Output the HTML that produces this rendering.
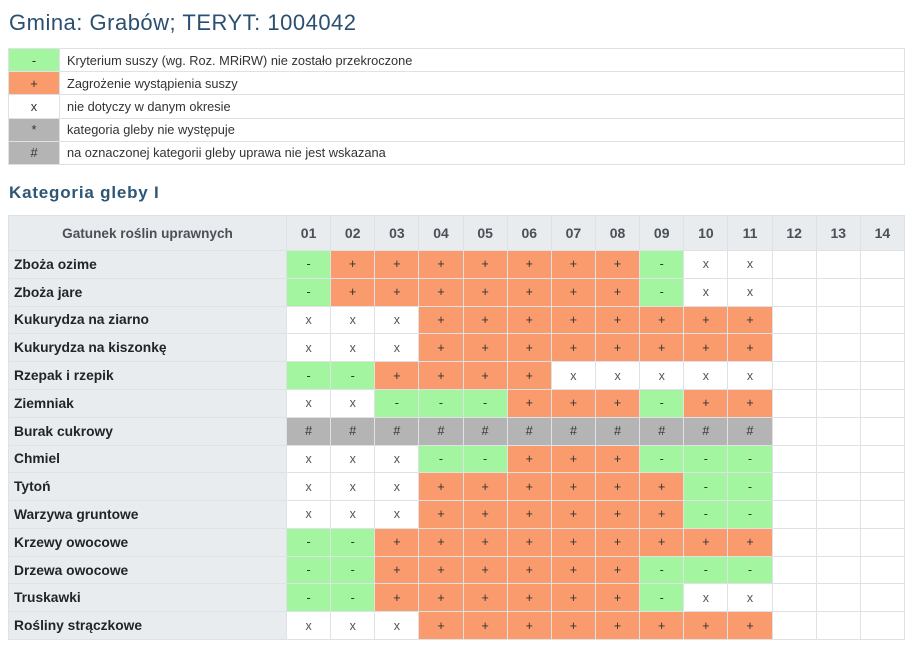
<!DOCTYPE html>
<html><head><meta charset="utf-8">
<style>
*{margin:0;padding:0;box-sizing:border-box}
body{width:913px;height:645px;background:#fff;position:relative;overflow:hidden;font-family:"Liberation Sans","DejaVu Sans",sans-serif;color:#212529}
.t1{position:absolute;left:9px;top:10px;font-size:22px;line-height:26px;letter-spacing:0.5px;color:#2b4f70;white-space:nowrap}
.t2{position:absolute;left:9px;top:183px;font-size:17px;line-height:20px;font-weight:bold;letter-spacing:0.8px;color:#2e5676;white-space:nowrap}
.leg{position:absolute;left:8px;top:48px;width:897px;height:117px;display:grid;grid-template-columns:50px 1fr;grid-template-rows:repeat(5,1fr);gap:1px;background:#dee2e6;border:1px solid #dee2e6}
.leg div{display:flex;align-items:center;font-size:12.8px;color:#333;background:#fff}
.leg .c{justify-content:center}
.leg .d{padding-left:7px}
.tb{position:absolute;left:8px;top:215px;width:897px;height:425px;display:grid;grid-template-columns:277px repeat(14,1fr);grid-template-rows:34px repeat(14,1fr);gap:1px;background:#dee2e6;border:1px solid #dee2e6}
.tb div{display:flex;align-items:center;justify-content:center;background:#fff;font-size:12.5px;color:#333}
.tb .h{background:#e9ecef;font-weight:bold;font-size:14px;color:#495057}
.tb .h0{font-size:13.6px}
.tb .l{background:#e9ecef;justify-content:flex-start;padding-left:5px;font-weight:bold;font-size:13.8px;color:#212529}
.g{background:#a4f5a0 !important}
.o{background:#f99b6c !important}
.s{background:#b4b4b4 !important}
.tb .w{color:#555}
</style></head><body>
<div class="t1">Gmina: Grabów; TERYT: 1004042</div>
<div class="leg">
<div class="c g">-</div><div class="d">Kryterium suszy (wg. Roz. MRiRW) nie zostało przekroczone</div>
<div class="c o">+</div><div class="d">Zagrożenie wystąpienia suszy</div>
<div class="c">x</div><div class="d">nie dotyczy w danym okresie</div>
<div class="c s">*</div><div class="d">kategoria gleby nie występuje</div>
<div class="c s">#</div><div class="d">na oznaczonej kategorii gleby uprawa nie jest wskazana</div>
</div>
<div class="t2">Kategoria gleby I</div>
<div class="tb">
<div class="h h0">Gatunek roślin uprawnych</div><div class="h">01</div><div class="h">02</div><div class="h">03</div><div class="h">04</div><div class="h">05</div><div class="h">06</div><div class="h">07</div><div class="h">08</div><div class="h">09</div><div class="h">10</div><div class="h">11</div><div class="h">12</div><div class="h">13</div><div class="h">14</div>

<div class="l">Zboża ozime</div><div class="g">-</div><div class="o">+</div><div class="o">+</div><div class="o">+</div><div class="o">+</div><div class="o">+</div><div class="o">+</div><div class="o">+</div><div class="g">-</div><div class="w">x</div><div class="w">x</div><div></div><div></div><div></div>

<div class="l">Zboża jare</div><div class="g">-</div><div class="o">+</div><div class="o">+</div><div class="o">+</div><div class="o">+</div><div class="o">+</div><div class="o">+</div><div class="o">+</div><div class="g">-</div><div class="w">x</div><div class="w">x</div><div></div><div></div><div></div>

<div class="l">Kukurydza na ziarno</div><div class="w">x</div><div class="w">x</div><div class="w">x</div><div class="o">+</div><div class="o">+</div><div class="o">+</div><div class="o">+</div><div class="o">+</div><div class="o">+</div><div class="o">+</div><div class="o">+</div><div></div><div></div><div></div>

<div class="l">Kukurydza na kiszonkę</div><div class="w">x</div><div class="w">x</div><div class="w">x</div><div class="o">+</div><div class="o">+</div><div class="o">+</div><div class="o">+</div><div class="o">+</div><div class="o">+</div><div class="o">+</div><div class="o">+</div><div></div><div></div><div></div>

<div class="l">Rzepak i rzepik</div><div class="g">-</div><div class="g">-</div><div class="o">+</div><div class="o">+</div><div class="o">+</div><div class="o">+</div><div class="w">x</div><div class="w">x</div><div class="w">x</div><div class="w">x</div><div class="w">x</div><div></div><div></div><div></div>

<div class="l">Ziemniak</div><div class="w">x</div><div class="w">x</div><div class="g">-</div><div class="g">-</div><div class="g">-</div><div class="o">+</div><div class="o">+</div><div class="o">+</div><div class="g">-</div><div class="o">+</div><div class="o">+</div><div></div><div></div><div></div>

<div class="l">Burak cukrowy</div><div class="s">#</div><div class="s">#</div><div class="s">#</div><div class="s">#</div><div class="s">#</div><div class="s">#</div><div class="s">#</div><div class="s">#</div><div class="s">#</div><div class="s">#</div><div class="s">#</div><div></div><div></div><div></div>

<div class="l">Chmiel</div><div class="w">x</div><div class="w">x</div><div class="w">x</div><div class="g">-</div><div class="g">-</div><div class="o">+</div><div class="o">+</div><div class="o">+</div><div class="g">-</div><div class="g">-</div><div class="g">-</div><div></div><div></div><div></div>

<div class="l">Tytoń</div><div class="w">x</div><div class="w">x</div><div class="w">x</div><div class="o">+</div><div class="o">+</div><div class="o">+</div><div class="o">+</div><div class="o">+</div><div class="o">+</div><div class="g">-</div><div class="g">-</div><div></div><div></div><div></div>

<div class="l">Warzywa gruntowe</div><div class="w">x</div><div class="w">x</div><div class="w">x</div><div class="o">+</div><div class="o">+</div><div class="o">+</div><div class="o">+</div><div class="o">+</div><div class="o">+</div><div class="g">-</div><div class="g">-</div><div></div><div></div><div></div>

<div class="l">Krzewy owocowe</div><div class="g">-</div><div class="g">-</div><div class="o">+</div><div class="o">+</div><div class="o">+</div><div class="o">+</div><div class="o">+</div><div class="o">+</div><div class="o">+</div><div class="o">+</div><div class="o">+</div><div></div><div></div><div></div>

<div class="l">Drzewa owocowe</div><div class="g">-</div><div class="g">-</div><div class="o">+</div><div class="o">+</div><div class="o">+</div><div class="o">+</div><div class="o">+</div><div class="o">+</div><div class="g">-</div><div class="g">-</div><div class="g">-</div><div></div><div></div><div></div>

<div class="l">Truskawki</div><div class="g">-</div><div class="g">-</div><div class="o">+</div><div class="o">+</div><div class="o">+</div><div class="o">+</div><div class="o">+</div><div class="o">+</div><div class="g">-</div><div class="w">x</div><div class="w">x</div><div></div><div></div><div></div>

<div class="l">Rośliny strączkowe</div><div class="w">x</div><div class="w">x</div><div class="w">x</div><div class="o">+</div><div class="o">+</div><div class="o">+</div><div class="o">+</div><div class="o">+</div><div class="o">+</div><div class="o">+</div><div class="o">+</div><div></div><div></div><div></div>
</div>
</body></html>
